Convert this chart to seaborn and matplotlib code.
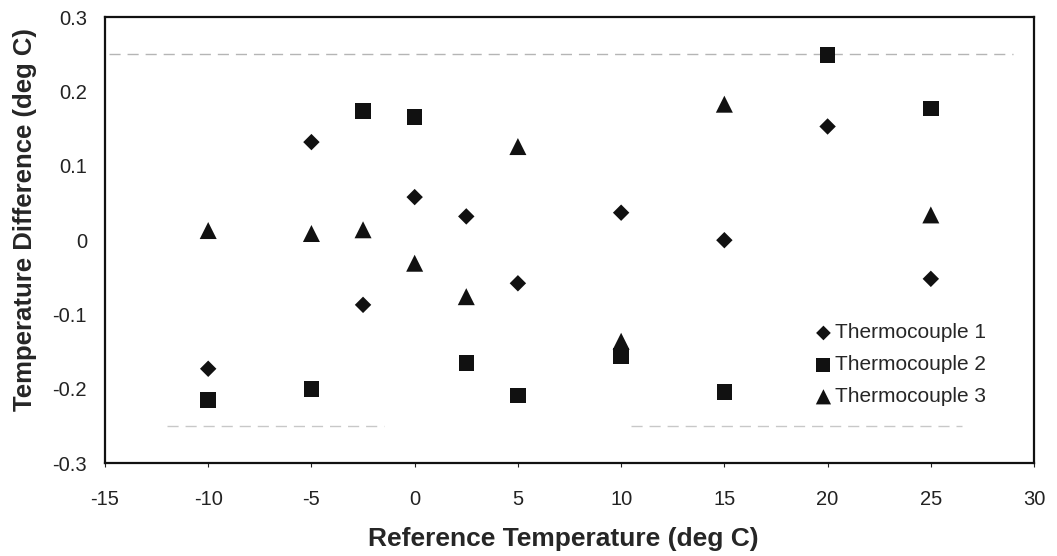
import matplotlib
matplotlib.use('Agg')
import matplotlib.pyplot as plt
import seaborn as sns
import numpy as np
import pandas as pd

# 基準温度 (deg C)
ref_temp = [-10, -5, -2.5, 0, 2.5, 5, 10, 15, 20, 25]
ref_temp_tc3 = [-10, -5, -2.5, 0, 2.5, 5, 10, 15, 25]

# 温度差 (deg C)
tc1_diff = [-0.173, 0.132, -0.087, 0.058, 0.032, -0.058, 0.037, 0.000, 0.153, -0.052]
tc2_diff = [-0.215, -0.200, 0.174, 0.166, -0.165, -0.209, -0.156, -0.204, 0.249, 0.177]
tc3_diff = [0.013, 0.009, 0.014, -0.031, -0.076, 0.126, -0.136, 0.183, 0.034]

series_names = ['Thermocouple 1', 'Thermocouple 2', 'Thermocouple 3']

# 許容範囲 (±0.25) の破線
limit_upper = 0.25
limit_lower = -0.25
upper_span = [(-14.8, 29.0)]
lower_spans = [(-12.0, -1.5), (10.5, 26.5)]

x_ticks = [-15, -10, -5, 0, 5, 10, 15, 20, 25, 30]
y_ticks = [-0.3, -0.2, -0.1, 0, 0.1, 0.2, 0.3]
y_ticklabels = ['-0.3', '-0.2', '-0.1', '0', '0.1', '0.2', '0.3']

sns.set_style('white')
plt.rcParams['font.family'] = ['Liberation Sans', 'DejaVu Sans']
plt.rcParams['axes.unicode_minus'] = False

fig = plt.figure(figsize=(10.57, 5.56), dpi=100)
ax = fig.add_axes([0.0993, 0.167, 0.879, 0.802])

# 破線
for x0, x1 in upper_span:
    ax.plot([x0, x1], [limit_upper, limit_upper], color='#b5b5b5',
            lw=1.0, ls=(0, (8, 5)), zorder=1)
for x0, x1 in lower_spans:
    ax.plot([x0, x1], [limit_lower, limit_lower], color='#c8c8c8',
            lw=1.0, ls=(0, (8, 5)), zorder=1)

# 散布図
sns.scatterplot(x=ref_temp, y=tc1_diff, marker='D', s=70, color='#111111',
                edgecolor='none', label=series_names[0], ax=ax, zorder=3)
sns.scatterplot(x=ref_temp, y=tc2_diff, marker='s', s=125, color='#111111',
                edgecolor='none', label=series_names[1], ax=ax, zorder=3)
sns.scatterplot(x=ref_temp_tc3, y=tc3_diff, marker='^', s=150, color='#111111',
                edgecolor='none', label=series_names[2], ax=ax, zorder=3)

ax.set_xlim(-15, 30)
ax.set_ylim(-0.3, 0.3)
ax.set_xticks(x_ticks)
ax.set_yticks(y_ticks)
ax.set_yticklabels(y_ticklabels)
ax.tick_params(axis='both', labelsize=14.5, colors='#222222', length=3,
               width=0.8, direction='out', bottom=True, left=False)
ax.tick_params(axis='x', pad=16)
ax.tick_params(axis='y', pad=10)

for spine in ax.spines.values():
    spine.set_color('#111111')
    spine.set_linewidth(1.6)

ax.set_xlabel('Reference Temperature (deg C)', fontsize=19,
              fontweight='bold')
ax.set_ylabel('Temperature Difference (deg C)', fontsize=18.5,
              fontweight='bold')
ax.xaxis.set_label_coords(0.493, -0.143, transform=ax.transAxes)
ax.yaxis.set_label_coords(-0.073, 0.546, transform=ax.transAxes)
ax.xaxis.label.set_va('top')

leg = ax.legend(loc='upper left', bbox_to_anchor=(0.752, 0.332), frameon=False,
                fontsize=15, handletextpad=0.0, labelspacing=0.62,
                borderaxespad=0.0, handlelength=1.1)
for h in leg.legend_handles:
    h.set_sizes([h.get_sizes()[0] * 0.8])

plt.savefig('out.png', dpi=100)
plt.close()
